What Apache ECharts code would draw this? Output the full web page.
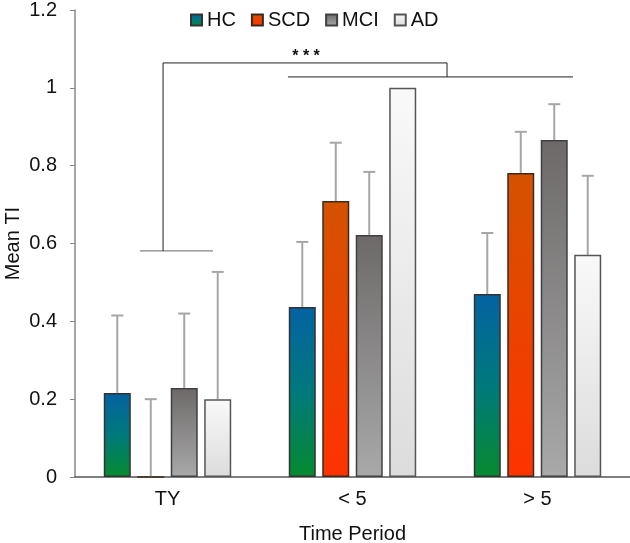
<!DOCTYPE html>
<html>
<head>
<meta charset="utf-8">
<script src="https://cdn.jsdelivr.net/npm/echarts@6/dist/echarts.min.js"></script>
<style>html,body{margin:0;padding:0;background:#fff;}#c{width:630px;height:543px;}</style>
</head>
<body>
<div id="c"></div>
<script>
// ---- data ----
const categories = ['TY', '< 5', '> 5'];
const seriesNames = ['HC', 'SCD', 'MCI', 'AD'];
const hcMean  = [0.216, 0.437, 0.470];
const hcUpper = [0.415, 0.604, 0.627];
const scdMean  = [0.0, 0.709, 0.781];
const scdUpper = [0.200, 0.859, 0.887];
const mciMean  = [0.229, 0.622, 0.866];
const mciUpper = [0.420, 0.784, 0.958];
const adMean  = [0.200, 1.000, 0.571];
const adUpper = [0.527, null, 0.774];
const yTicks = [0, 0.2, 0.4, 0.6, 0.8, 1, 1.2];
// significance bracket segments in (category units, value) : [x1, y1, x2, y2]
const bracketSegments = [
  [0.351, 0.581, 0.746, 0.581],
  [0.476, 0.581, 0.476, 1.064],
  [0.476, 1.064, 2.011, 1.064],
  [2.011, 1.064, 2.011, 1.028],
  [1.151, 1.028, 2.692, 1.028]
];
const sigLabel = { x: 1.249, y: 1.08, text: '* * *' };

// ---- styling ----
function grad(stops) {
  return { type: 'linear', x: 0, y: 0, x2: 0, y2: 1,
    colorStops: stops.map((c, i) => ({ offset: i / (stops.length - 1), color: c })) };
}
const fills = [
  grad(['#0462a2', '#00797c', '#068a2f']),
  grad(['#d45200', '#ff3300']),
  grad(['#6d6969', '#a9a9a9']),
  grad(['#f9f9f9', '#dcdcdc'])
];
const borders = ['#333', '#3a2a20', '#404040', '#555'];
const means = [hcMean, scdMean, mciMean, adMean];
const uppers = [hcUpper, scdUpper, mciUpper, adUpper];
const BAR_W = 27, BAR_GAP = 0.24;
const FONT = 'Liberation Sans, Arial, sans-serif';

const series = [];
seriesNames.forEach((name, i) => {
  series.push({
    name: name, type: 'bar', data: means[i],
    barWidth: BAR_W, barGap: (BAR_GAP * 100) + '%',
    itemStyle: { color: fills[i], borderColor: borders[i], borderWidth: 1.5 },
    z: 2
  });
});
seriesNames.forEach((name, i) => {
  const data = [];
  categories.forEach((c, k) => { if (uppers[i][k] != null) data.push([k, means[i][k], uppers[i][k]]); });
  series.push({
    type: 'custom', name: name + ' err', data: data, z: 1,
    encode: { x: 0, y: [1, 2] },
    renderItem: function (params, api) {
      const off = (i - 1.5) * BAR_W * (1 + BAR_GAP);
      const p0 = api.coord([api.value(0), api.value(1)]);
      const p1 = api.coord([api.value(0), api.value(2)]);
      const x = p0[0] + off;
      const st = { stroke: '#a6a6a6', lineWidth: 2 };
      return { type: 'group', children: [
        { type: 'line', shape: { x1: x, y1: p0[1], x2: x, y2: p1[1] }, style: st },
        { type: 'line', shape: { x1: x - 6, y1: p1[1], x2: x + 6, y2: p1[1] }, style: st }
      ]};
    }
  });
});
series.push({
  type: 'custom', name: 'brackets', xAxisIndex: 1, z: 5,
  data: bracketSegments,
  renderItem: function (params, api) {
    const a = api.coord([api.value(0), api.value(1)]);
    const b = api.coord([api.value(2), api.value(3)]);
    return { type: 'line', shape: { x1: a[0], y1: a[1], x2: b[0], y2: b[1] },
      style: { stroke: params.dataIndex === 0 ? '#666' : '#222', lineWidth: 1 } };
  }
});
series.push({
  type: 'custom', name: 'sig', xAxisIndex: 1, z: 5,
  data: [[sigLabel.x, sigLabel.y]],
  renderItem: function (params, api) {
    const p = api.coord([api.value(0), api.value(1)]);
    return { type: 'text', x: p[0], y: p[1],
      style: { text: sigLabel.text, fill: '#111', font: 'bold 16px ' + FONT, textAlign: 'center', textVerticalAlign: 'middle' } };
  }
});

const chart = echarts.init(document.getElementById('c'), null, { renderer: 'canvas' });
chart.setOption({
  animation: false,
  backgroundColor: '#fff',
  textStyle: { fontFamily: FONT },
  legend: {
    data: seriesNames, left: 185, top: 5, icon: 'rect', itemWidth: 11, itemHeight: 11, itemGap: 15,
    textStyle: { fontSize: 20, color: '#111', fontFamily: FONT }
  },
  grid: { left: 75, right: 0, top: 10, bottom: 66, containLabel: false, outerBoundsMode: 'none' },
  xAxis: [{
    type: 'category', data: categories,
    name: 'Time Period', nameLocation: 'middle', nameGap: 47, nameMoveOverlap: false,
    nameTextStyle: { fontSize: 20, color: '#111', fontFamily: FONT },
    axisLine: { lineStyle: { color: '#555', width: 1.5 } },
    axisTick: { show: false },
    axisLabel: { fontSize: 20, color: '#111', margin: 12, fontFamily: FONT }
  }, {
    type: 'value', min: 0, max: 3, show: false
  }],
  yAxis: {
    type: 'value', min: yTicks[0], max: yTicks[yTicks.length - 1], interval: 0.2,
    name: 'Mean TI', nameLocation: 'middle', nameGap: 52, nameRotate: 90, nameMoveOverlap: false,
    nameTextStyle: { fontSize: 20, color: '#111', fontFamily: FONT },
    axisLine: { show: true, lineStyle: { color: '#888', width: 1.5 } },
    axisTick: { show: true, inside: false, length: 5, lineStyle: { color: '#888' } },
    splitLine: { show: false },
    axisLabel: { fontSize: 20, color: '#111', margin: 18, fontFamily: FONT }
  },
  series: series
});
</script>
</body>
</html>
